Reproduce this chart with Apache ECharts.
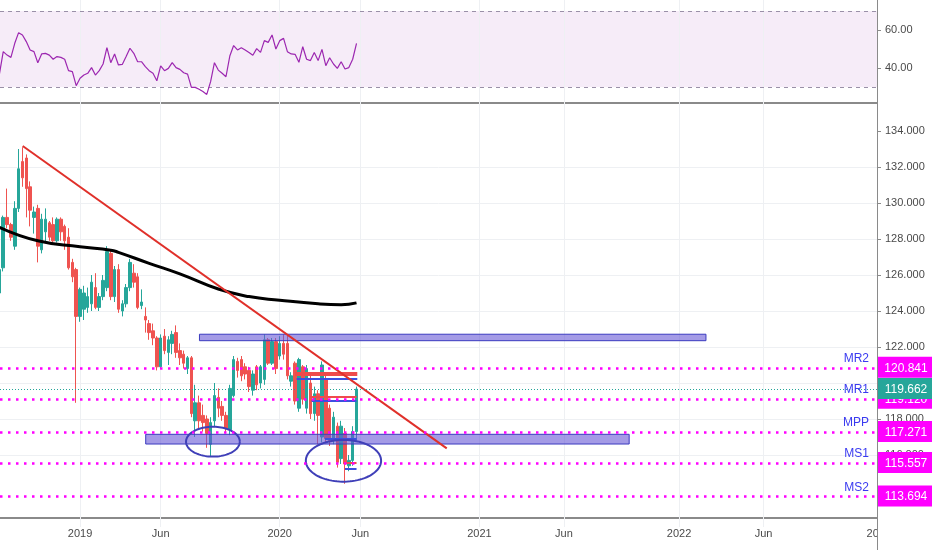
<!DOCTYPE html>
<html><head><meta charset="utf-8">
<script src="https://cdn.jsdelivr.net/npm/echarts@6/dist/echarts.min.js"></script>
<style>html,body{margin:0;padding:0;background:#fff}#c{width:932px;height:550px}</style>
</head><body><div id="c"></div>
<script>
// ---- data ----
const firstWeek = [2018, 8, 12]; // weekly bars start (Sunday)
const opens  = [125.0,126.4,129.2,128.8,127.6,129.7,132.3,132.5,130.9,129.2,129.7,127.4,128.4,128.9,128.8,127.9,129.1,128.7,128.1,126.7,126.3,123.7,124.1,124.2,124.4,125.3,124.2,124.8,125.3,127.2,124.8,126.3,124.0,124.4,125.3,126.1,125.9,124.3,123.7,123.3,122.9,122.5,120.9,122.6,121.7,122.2,122.8,121.8,121.6,120.8,121.4,117.9,118.9,118.2,118.0,116.6,117.9,119.2,118.7,118.2,117.4,119.3,121.2,121.3,120.9,120.7,119.6,120.9,120.0,120.2,122.4,121.1,122.3,121.5,122.2,122.2,120.1,121.1,118.6,120.9,118.6,120.0,118.3,119.4,117.0,120.2,118.6,116.9,117.6,115.8,117.2,115.4,115.7,117.3];
const closes = [126.3,129.2,128.8,128.1,129.7,131.9,131.4,130.8,129.6,129.5,127.6,129.1,129.1,128.1,127.9,129.1,128.4,127.9,126.4,125.9,123.7,125.2,125.0,124.8,125.6,124.2,124.8,125.7,127.3,124.8,126.3,124.1,124.4,125.3,126.7,125.6,124.2,124.5,123.5,122.8,122.5,120.9,122.5,121.8,122.4,122.7,121.7,121.4,121.1,121.4,118.3,118.9,117.9,117.8,117.2,117.8,119.3,118.6,118.2,117.5,119.7,121.3,120.7,120.4,120.5,119.8,120.5,119.9,120.9,122.4,121.1,122.3,120.8,122.2,121.6,120.4,120.4,119.0,121.3,119.1,120.8,118.3,119.4,118.2,121.0,116.9,116.8,118.1,115.6,117.6,115.5,115.7,117.3,119.662];
const lows   = [124.8,126.2,128.6,127.9,127.4,129.5,130.9,129.2,128.7,128.3,126.7,127.2,127.8,127.9,127.8,127.8,127.9,127.4,126.3,125.6,118.9,123.4,123.5,123.9,124.0,124.1,124.0,124.6,125.1,124.6,124.5,123.9,123.7,124.2,125.1,125.3,124.1,124.1,122.8,122.4,122.1,120.7,120.8,121.6,121.0,121.6,121.4,121.0,120.8,120.5,118.1,117.0,117.5,117.3,116.4,115.9,117.6,118.1,117.9,117.2,117.1,119.2,120.3,120.1,120.2,119.5,119.3,119.6,119.7,119.9,121.0,121.0,120.5,121.3,121.3,120.2,119.8,118.8,118.4,118.8,118.3,118.0,117.9,116.6,116.7,116.7,116.5,116.6,115.3,115.5,114.4,115.1,115.4,116.8];
const highs  = [126.4,129.3,130.8,128.9,130.1,133.0,133.1,132.7,131.2,129.8,129.9,129.4,129.7,129.0,129.2,129.2,129.2,128.8,128.6,126.9,126.4,125.3,125.4,125.3,126.0,126.1,125.0,126.0,127.6,127.4,126.5,126.6,124.6,125.5,126.9,126.6,126.1,125.2,124.2,123.5,123.3,122.6,122.7,123.0,122.6,122.9,123.2,122.2,121.8,121.5,121.5,119.9,119.3,118.8,118.2,118.1,120.0,119.7,119.0,118.4,119.9,121.5,121.4,121.5,121.1,120.9,120.7,121.0,121.0,122.7,122.5,122.5,122.5,122.6,122.7,122.7,120.6,121.2,121.4,121.0,121.0,120.5,119.8,119.6,121.2,120.5,118.8,118.4,117.8,117.9,117.5,116.0,117.6,119.8];
const rsiValues = [36.8,48.6,46.8,45.6,53.0,58.6,57.4,53.9,49.5,48.6,42.8,47.4,47.7,46.8,44.6,46.0,45.6,44.6,38.6,38.1,30.7,34.6,36.3,37.2,40.2,36.3,38.6,42.1,50.7,42.8,47.4,41.6,41.9,46.0,50.4,47.7,43.3,43.3,40.7,38.6,37.2,33.3,41.1,38.6,39.8,42.8,40.2,39.3,37.5,36.8,29.8,29.8,28.8,27.6,26.1,32.8,42.8,38.9,37.2,35.4,46.3,51.8,49.5,50.7,49.5,48.2,46.7,50.2,48.2,54.4,53.5,57.4,50.0,54.4,55.6,48.6,47.4,47.2,43.0,51.2,44.6,43.9,48.1,43.9,49.8,41.2,45.4,42.1,39.8,43.3,39.5,40.2,44.6,53.0];
const maWeeks  = [0, 10, 21, 29, 31, 39, 47, 57, 65, 73, 83, 89, 93];
const maValues = [128.65, 127.9, 127.57, 127.38, 127.26, 126.65, 126.06, 125.22, 124.8, 124.6, 124.4, 124.35, 124.45];
const trendWeeks  = [6.07, 116.5];
const trendPrices = [133.17, 116.37];
const pivotNames  = ['MR2', 'MR1', 'MPP', 'MS1', 'MS2'];
const pivotValues = [120.841, 119.120, 117.271, 115.557, 113.694];
const lastPrice = 119.662;
const zoneStartWeeks = [52.1, 38.1];
const zoneEndWeeks   = [184.0, 164.0];
const zoneLowPrices  = [122.35, 116.61];
const zoneHighPrices = [122.71, 117.15];
const segStartWeeks = [77.0, 77.0, 77.4, 80.9, 81.3, 84.8, 90.4, 90.0];
const segEndWeeks   = [93.2, 93.2, 93.2, 93.0, 93.0, 93.0, 93.0, 93.0];
const segPrices     = [120.57, 120.46, 120.22, 119.24, 119.0, 116.93, 115.57, 115.22];
const segKinds      = ['up', 'up', 'down', 'up', 'down', 'down', 'up', 'down'];
const ellipseWeeks  = [55.6, 89.6];
const ellipsePrices = [116.74, 115.68];
const ellipseHalfWeeks  = [7.0, 9.8];
const ellipseHalfPrices = [0.83, 1.16];
const xTickDates  = ['2019-01-06','2019-06-02','2020-01-05','2020-05-31','2021-01-03','2021-06-06','2022-01-02','2022-06-05','2023-01-01'];
const xTickLabels = ['2019','Jun','2020','Jun','2021','Jun','2022','Jun','2023'];
const priceTicks = [114,116,118,120,122,124,126,128,130,132,134];
const rsiTicks = [40, 60];

// ---- helpers ----
const DAY = 864e5;
const base = Date.UTC(firstWeek[0], firstWeek[1] - 1, firstWeek[2]);
const wt = w => base + w * 7 * DAY;
const parseD = s => { const a = s.split('-').map(Number); return Date.UTC(a[0], a[1] - 1, a[2]); };
const tickTs = xTickDates.map(parseD);
const xMin = wt(0.156), xMax = wt(228.54);
const inRangeTicks = tickTs.filter(t => t >= xMin && t <= xMax);
const fmtX = v => { const k = tickTs.findIndex(t => Math.abs(t - v) < DAY); return k >= 0 ? xTickLabels[k] : ''; };
const FONT = 'Liberation Sans, Arial, sans-serif';
const AX = '#8a8a8a', GRIDC = '#eef0f3', LBL = '#4a4a4a';

const candleData = opens.map((o, i) => [wt(i), o, closes[i], lows[i], highs[i]]);
const rsiData = rsiValues.map((v, i) => [wt(i), v]);
const maData = maWeeks.map((w, k) => [wt(w), maValues[k]]);
const trendData = trendWeeks.map((w, k) => [wt(w), trendPrices[k]]);
const ellipseData = ellipseWeeks.map((w, k) => [wt(w), ellipsePrices[k], ellipseHalfWeeks[k], ellipseHalfPrices[k]]);
const tagValues = pivotValues.concat([lastPrice]);
const tagData = tagValues.map(v => [xMax, v]);

const vGrid = inRangeTicks.map(t => ({ xAxis: t }));

const chart = echarts.init(document.getElementById('c'), null, { renderer: 'canvas' });
const option = {
  animation: false,
  backgroundColor: '#ffffff',
  textStyle: { fontFamily: FONT },
  grid: [
    { left: 0, right: 55, top: 0, height: 106 },
    { left: 0, right: 55, top: 104, bottom: 23 }
  ],
  xAxis: [
    { type: 'value', gridIndex: 0, min: xMin, max: xMax, offset: -3, scale: true,
      axisLine: { show: true, onZero: false, lineStyle: { color: AX, width: 2 } },
      axisTick: { show: false }, axisLabel: { show: false }, splitLine: { show: false } },
    { type: 'value', gridIndex: 1, min: xMin, max: xMax, offset: -9, scale: true,
      axisLine: { show: true, onZero: false, lineStyle: { color: AX, width: 2 } },
      axisTick: { show: true, length: 4, lineStyle: { color: AX }, customValues: inRangeTicks },
      axisLabel: { customValues: inRangeTicks, formatter: fmtX, color: LBL, fontSize: 11, margin: 10, fontFamily: FONT },
      splitLine: { show: false } }
  ],
  yAxis: [
    { type: 'value', gridIndex: 0, position: 'right', min: 20, max: 75.79, interval: 20,
      axisLine: { show: true, lineStyle: { color: AX } },
      axisTick: { show: true, length: 4, lineStyle: { color: AX }, customValues: rsiTicks },
      axisLabel: { customValues: rsiTicks, formatter: v => v.toFixed(2), color: LBL, fontSize: 11, margin: 8, fontFamily: FONT },
      splitLine: { show: true, showMinLine: false, showMaxLine: false, lineStyle: { color: '#e6e0ee' } } },
    { type: 'value', gridIndex: 1, position: 'right', min: 112, max: 135.5, interval: 2,
      axisLine: { show: true, lineStyle: { color: AX } },
      axisTick: { show: true, length: 4, lineStyle: { color: AX }, customValues: priceTicks },
      axisLabel: { customValues: priceTicks, formatter: v => v.toFixed(3), color: LBL, fontSize: 11, margin: 8, fontFamily: FONT },
      splitLine: { show: true, showMinLine: false, showMaxLine: false, lineStyle: { color: GRIDC } } }
  ],
  series: [
    { type: 'line', xAxisIndex: 0, yAxisIndex: 0, data: rsiData, symbol: 'none', z: 3,
      lineStyle: { color: '#9c27b0', width: 1.2 },
      markArea: { silent: true, z: 1, itemStyle: { color: 'rgba(156,39,176,0.09)' }, data: [[{ yAxis: 30 }, { yAxis: 70 }]] },
      markLine: { silent: true, symbol: 'none', z: 2, label: { show: false },
        lineStyle: { color: '#9a90a8', width: 1, type: [4, 4] }, data: [{ yAxis: 70 }, { yAxis: 30 }] } },
    { type: 'line', xAxisIndex: 0, yAxisIndex: 0, data: [], z: 1,
      markLine: { silent: true, symbol: 'none', z: 1, label: { show: false },
        lineStyle: { color: GRIDC, width: 1, type: 'solid' }, data: vGrid } },
    { type: 'line', xAxisIndex: 1, yAxisIndex: 1, data: [], z: 1,
      markLine: { silent: true, symbol: 'none', z: 1, label: { show: false },
        lineStyle: { color: GRIDC, width: 1, type: 'solid' }, data: vGrid } },
    { type: 'candlestick', xAxisIndex: 1, yAxisIndex: 1, data: candleData, barWidth: 3, z: 2,
      encode: { x: 0, y: [1, 2, 3, 4] },
      itemStyle: { color: '#26a69a', color0: '#ef5350', borderColor: '#26a69a', borderColor0: '#ef5350', borderWidth: 1 } },
    { type: 'line', xAxisIndex: 1, yAxisIndex: 1, data: maData, smooth: true, symbol: 'none', z: 3,
      lineStyle: { color: '#000000', width: 3 } },
    { type: 'line', xAxisIndex: 1, yAxisIndex: 1, data: [], z: 4,
      markArea: { silent: true, z: 4,
        itemStyle: { color: 'rgba(103,88,214,0.6)', borderColor: '#3b3bbf', borderWidth: 1 },
        data: zoneStartWeeks.map((w, k) => [{ coord: [wt(w), zoneLowPrices[k]] }, { coord: [wt(zoneEndWeeks[k]), zoneHighPrices[k]] }]) } },
    { type: 'line', xAxisIndex: 1, yAxisIndex: 1, data: trendData, symbol: 'none', z: 5,
      lineStyle: { color: '#e0302a', width: 2 } },
    { type: 'line', xAxisIndex: 1, yAxisIndex: 1, data: [], z: 5,
      markLine: { silent: true, symbol: 'none', z: 5, label: { show: false },
        data: segPrices.map((p, k) => [
          { coord: [wt(segStartWeeks[k]), p], lineStyle: { color: segKinds[k] === 'up' ? '#ef4b4b' : '#3c4fe0', width: 2, type: 'solid' } },
          { coord: [wt(segEndWeeks[k]), p] }]) } },
    { type: 'custom', xAxisIndex: 1, yAxisIndex: 1, data: ellipseData, z: 6, clip: false,
      renderItem: (params, api) => {
        const t = api.value(0), p = api.value(1), hw = api.value(2), hh = api.value(3);
        const c = api.coord([t, p]);
        const r = api.coord([t + hw * 7 * DAY, p + hh]);
        const rx = Math.abs(r[0] - c[0]), ry = Math.abs(c[1] - r[1]);
        const pts = [];
        for (let k = 0; k <= 90; k++) { const a = k / 90 * 2 * Math.PI; pts.push([c[0] + rx * Math.cos(a), c[1] + ry * Math.sin(a)]); }
        return { type: 'polyline', shape: { points: pts }, style: { stroke: '#3f3fb8', lineWidth: 2, fill: null } };
      } },
    { type: 'line', xAxisIndex: 1, yAxisIndex: 1, data: [], z: 7,
      markLine: { silent: true, symbol: 'none', z: 7,
        label: { show: true, position: 'insideEndTop', color: '#3a3af0', fontSize: 12, fontFamily: FONT, distance: [8, 3] },
        data: pivotValues.map((v, k) => ({ yAxis: v, label: { formatter: pivotNames[k] },
          lineStyle: { color: '#ff00ff', width: 2.5, type: [2.5, 5.5] } }))
          .concat([{ yAxis: lastPrice, label: { show: false }, lineStyle: { color: '#26a69a', width: 1, type: [1, 2] } }]) } },
    { type: 'custom', xAxisIndex: 1, yAxisIndex: 1, data: tagData, z: 20, clip: false,
      renderItem: (params, api) => {
        const c = api.coord([api.value(0), api.value(1)]);
        const isLast = params.dataIndex === tagValues.length - 1;
        return { type: 'group', children: [
          { type: 'rect', shape: { x: c[0] + 1, y: c[1] - 11, width: 56, height: 21 },
            style: { fill: isLast ? '#26a69a' : '#ff00ff' } },
          { type: 'text', x: c[0] + 29, y: c[1] + 0.5,
            style: { text: api.value(1).toFixed(3), fill: '#ffffff', align: 'center', verticalAlign: 'middle', font: '12px ' + FONT } }
        ] };
      } }
  ]
};
chart.setOption(option);

const px = chart.convertToPixel({ xAxisIndex: 1 }, tickTs[tickTs.length - 1]);
const axisY = chart.convertToPixel({ yAxisIndex: 1 }, 112) - 9;
chart.setOption({
  graphic: [
    { type: 'text', x: px, y: axisY + 10, z: 90,
      style: { text: xTickLabels[xTickLabels.length - 1], textAlign: 'center', textVerticalAlign: 'top', fill: LBL, font: '11px ' + FONT } },
    { type: 'rect', z: 100, shape: { x: 878, y: axisY + 1, width: 54, height: 550 - axisY }, style: { fill: '#ffffff' } },
    { type: 'line', z: 101, shape: { x1: 877.5, y1: axisY, x2: 877.5, y2: 550 }, style: { stroke: AX, lineWidth: 1 } }
  ]
});
</script>
</body></html>
